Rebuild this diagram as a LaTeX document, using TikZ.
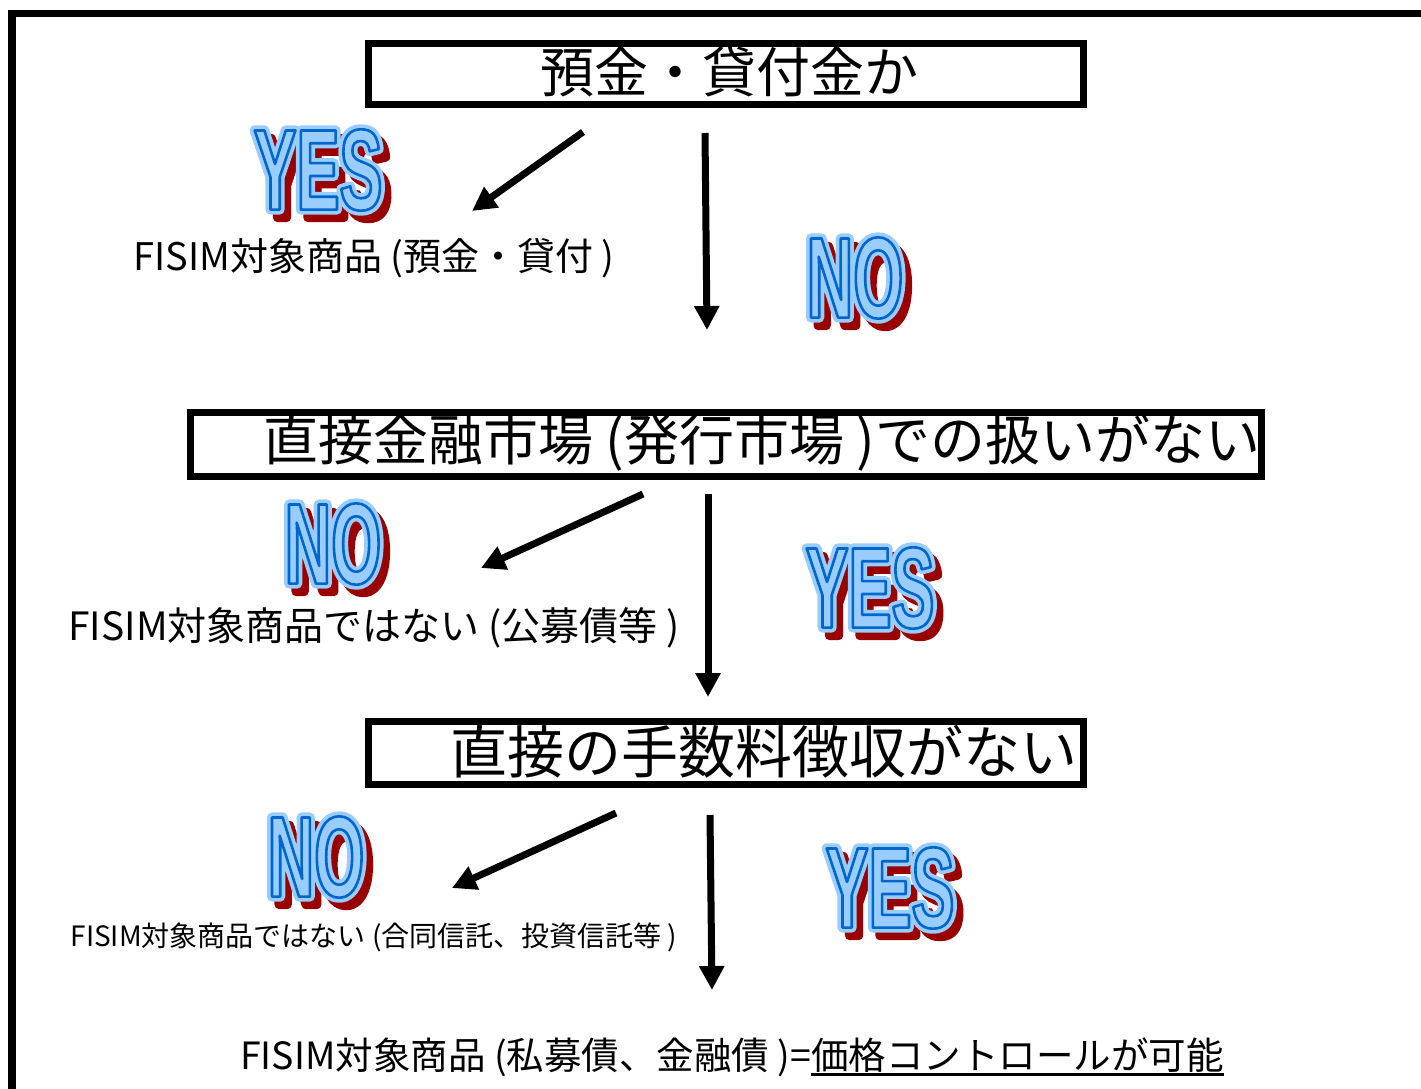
\documentclass[tikz,border=0pt]{standalone}
\usepackage{fontspec}
\setmainfont{Noto Sans CJK JP}
\newfontfamily\artfont{Liberation Sans Bold}[FakeStretch=0.56]
\usetikzlibrary{arrows.meta}
\definecolor{artred}{HTML}{990000}
\definecolor{artlight}{HTML}{99CCFF}
\definecolor{artblue}{HTML}{0066CC}
% WordArt-like YES / NO: red shadow, light halo, blue outline (stroked glyphs)
\newcommand\artlayer[4]{{\color{#1}\special{pdf:code q #2 RG 1 j 1 J #3 w 2 Tr}#4\special{pdf:code Q}}}
\newcommand\artword[1]{%
  \makebox[0pt][l]{\hspace*{7pt}\raisebox{-8pt}{\artlayer{artred}{0.6 0 0}{9}{#1}}}%
  \makebox[0pt][l]{\artlayer{artlight}{0.6 0.8 1}{10}{#1}}%
  \artlayer{artlight}{0 0.4 0.8}{2.6}{#1}}
\newcommand\thickul[1]{\leavevmode\vtop{\hbox{#1}\kern0.5pt\hrule height 3.5pt}}
\begin{document}
\begin{tikzpicture}[x=1pt,y=-1pt,
  qbox/.style={draw,line width=7pt,inner sep=0pt},
  qtext/.style={inner sep=0pt,font=\fontsize{56}{56}\selectfont},
  atext/.style={inner sep=0pt,font=\fontsize{38}{38}\selectfont},
  arw/.style={line width=7pt,-{Triangle[length=24pt,width=24pt]}},
  art/.style={inner sep=0pt,font=\artfont\fontsize{115}{115}\selectfont}]
\useasboundingbox (0,0) rectangle (1421,1088);
% frame
\draw[line width=7.5pt] (12,1095) -- (12,13.5) -- (1430,13.5);
% questions
\node[qbox,minimum width=715pt,minimum height=61pt] (q1) at (726,74) {};
\node[qtext,font=\fontsize{54}{54}\selectfont] (q1t) at (729,72) {預金・貸付金か};
\node[qbox,minimum width=1071pt,minimum height=64pt] (q2) at (726,444.5) {};
\node[qtext,font=\fontsize{55}{55}\selectfont] (q2t) at (762,443) {直接金融市場 (発行市場 )での扱いがない};
\node[qbox,minimum width=715pt,minimum height=63pt] (q3) at (726,753) {};
\node[qtext,font=\fontsize{57}{57}\selectfont] (q3t) at (764,752) {直接の手数料徴収がない};
% answers
\node[atext] (a1) at (374,258) {FISIM対象商品 (預金・貸付 )};
\node[atext,font=\fontsize{39}{39}\selectfont] (a2) at (374,628) {FISIM対象商品ではない (公募債等 )};
\node[atext,font=\fontsize{28}{28}\selectfont] (a3) at (374,937) {FISIM対象商品ではない (合同信託、投資信託等 )};
\node[atext,font=\fontsize{37.5}{37.5}\selectfont] (a4) at (732,1057) {FISIM対象商品 (私募債、金融債 )=\thickul{価格コントロールが可能}};
% yes / no
\node[art] (yes1) at (318,174) {\artword{YES}};
\node[art] (no1) at (855,282) {\artword{NO}};
\node[art] (no2) at (333,548) {\artword{NO}};
\node[art] (yes2) at (870,592) {\artword{YES}};
\node[art] (no3) at (316,861) {\artword{NO}};
\node[art] (yes3) at (890,892) {\artword{YES}};
% arrows
\coordinate (d1s) at (583,132);
\coordinate (d1e) at (472,211);
\coordinate (v1s) at (705,133);
\coordinate (v1e) at (707,330);
\coordinate (d2s) at (643,494);
\coordinate (d2e) at (481,568);
\coordinate (v2s) at (708,494);
\coordinate (v2e) at (708,697);
\coordinate (d3s) at (616,813);
\coordinate (d3e) at (452,888);
\coordinate (v3s) at (710,815);
\coordinate (v3e) at (712,990);
\draw[arw] (d1s) -- (d1e);
\draw[arw] (v1s) -- (v1e);
\draw[arw] (d2s) -- (d2e);
\draw[arw] (v2s) -- (v2e);
\draw[arw] (d3s) -- (d3e);
\draw[arw] (v3s) -- (v3e);
\end{tikzpicture}
\end{document}
